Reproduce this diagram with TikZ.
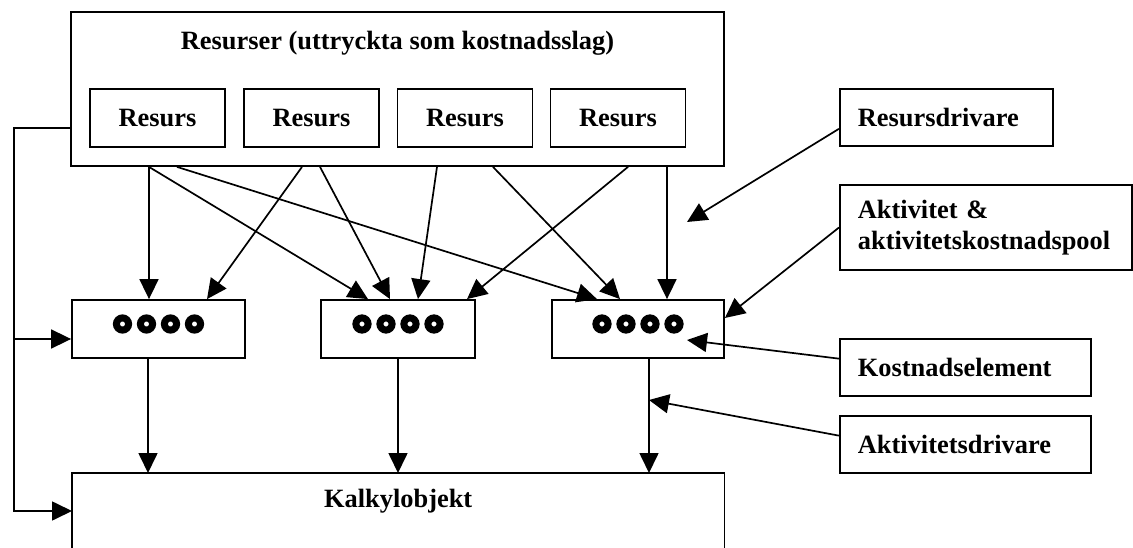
\documentclass[tikz,border=0pt]{standalone}
\usepackage{fontspec}
\setmainfont{Liberation Serif}
\usetikzlibrary{arrows.meta}

\begin{document}
\begin{tikzpicture}[x=1pt,y=-1pt,>={Triangle[length=20pt,width=19pt]},
    box/.style={draw,line width=1.8pt,inner sep=0pt},
    lbl/.style={font=\fontsize{26.4}{31}\selectfont\bfseries},
    sidebox/.style={box,lbl,anchor=west,align=left,inner xsep=18pt,text width=#1},
    ring/.style={line width=7pt},
    conn/.style={->,line width=1.7pt}]
    \useasboundingbox (0,0) rectangle (1133,548);
    % Resources
    \node[box,minimum width=653,minimum height=154] (resurser) at (397.5,89) {};
    \node[lbl] (title) at (397.5,43) {Resurser (uttryckta som kostnadsslag)};
    \foreach \i/\x in {1/157.5,2/311.5,3/465,4/618}
      \node[box,lbl,minimum width=135,minimum height=58] (res\i) at (\x,118) {Resurs};
    % Drivers and elements on the right
    \node[sidebox=177pt,minimum height=57] (resdrv) at (839,117.5) {Resursdrivare};
    \node[sidebox=256pt,minimum height=85] (aktpool) at (839,227.5) {Aktivitet \&\\aktivitetskostnadspool};
    \node[sidebox=215pt,minimum height=57] (kostel) at (839,367.5) {Kostnadselement};
    \node[sidebox=215pt,minimum height=57] (aktdrv) at (839,444.5) {Aktivitetsdrivare};
    % Activity pools
    \node[box,minimum width=173,minimum height=58] (poolA) at (158.5,329) {};
    \node[box,minimum width=154,minimum height=58] (poolB) at (398,329) {};
    \node[box,minimum width=172,minimum height=58] (poolC) at (638,329) {};
    \foreach \p in {poolA,poolB,poolC}
      \foreach \dx in {-36,-12,12,36}
        \draw[ring] ([xshift=\dx pt,yshift=5pt]\p.center) circle[radius=6.1];
    % Cost object (open at the bottom)
    \node[minimum width=652,minimum height=75,anchor=north west,inner sep=0pt] (kalk) at (72,473) {};
    \draw[line width=1.8pt] (kalk.south west) -- (kalk.north west) -- (kalk.north east) -- (kalk.south east);
    \node[lbl] (kalktext) at ([yshift=-28pt]kalk.north) {Kalkylobjekt};
    % Resources to pools
    \foreach \sx/\p/\ex in {149/poolA/149, 149/poolB/368, 177/poolC/597, 302/poolA/207,
        320/poolB/390, 437/poolB/418, 493/poolC/620, 628/poolB/467, 667/poolC/667}
      \draw[conn] (resurser.south -| \sx,0) -- (\p.north -| \ex,0);
    % Pools to cost object
    \foreach \p/\x in {poolA/148,poolB/398,poolC/649}
      \draw[conn] (\p.south -| \x,0) -- (kalk.north -| \x,0);
    % Driver arrows
    \coordinate (resdrvtip) at (687,222);
    \coordinate (kosteltip) at (687,340);
    \coordinate (aktdrvtip) at (649,400);
    \draw[conn] (resdrv.186) -- (resdrvtip);
    \draw[conn] (aktpool.west) -- (poolC.east |- 0,318);
    \draw[conn] (kostel.176) -- (kosteltip);
    \draw[conn] (aktdrv.176) -- (aktdrvtip);
    % Feedback line on the left
    \coordinate (fb) at (14,128);
    \draw[conn] (resurser.west |- fb) -- (fb) |- (kalk.west |- 0,511);
    \draw[conn] (fb |- 0,339) -- (poolA.west |- 0,339);
\end{tikzpicture}
\end{document}
